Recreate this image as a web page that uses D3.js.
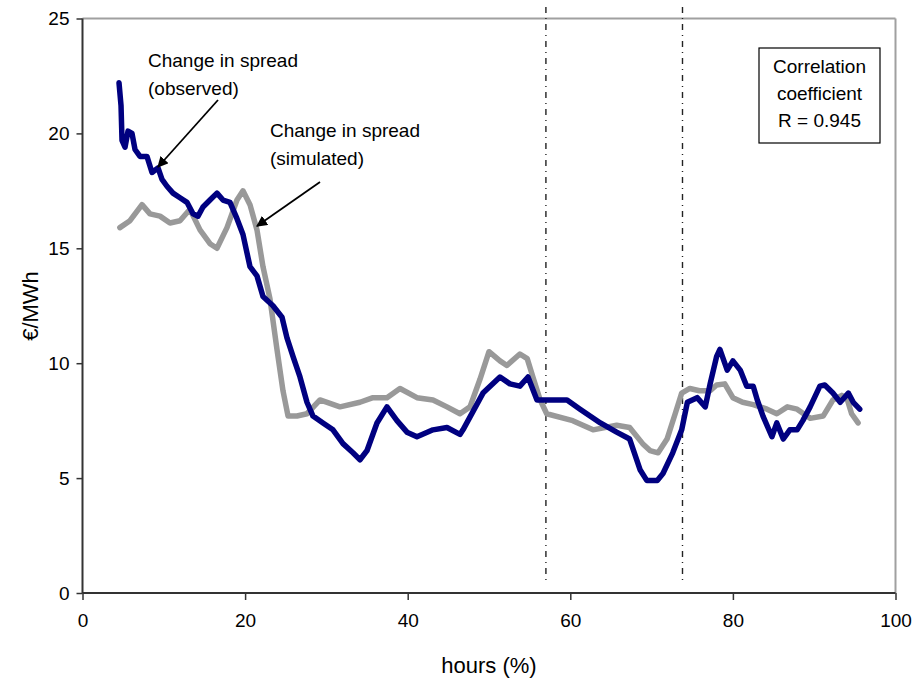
<!DOCTYPE html>
<html><head><meta charset="utf-8">
<script src="https://cdn.jsdelivr.net/npm/d3@7"></script>
<style>body{margin:0;background:#fff}svg{display:block;font-family:"Liberation Sans",Arial,sans-serif}</style>
</head><body><svg id="c" width="912" height="684"></svg>
<script>
const observedX=[4.49,4.74,4.86,5.23,5.60,6.09,6.46,7.07,7.93,8.55,9.29,9.78,10.39,11.13,11.99,12.85,13.59,14.21,14.82,15.68,16.54,17.28,18.14,18.99,19.74,20.60,21.46,22.20,23.43,24.54,25.15,25.89,26.75,27.61,28.35,29.58,30.81,32.04,33.27,34.13,35.00,36.22,37.45,38.68,39.91,41.14,43.11,44.83,46.43,46.8,49.26,51.35,52.58,53.8,54.8,55.9,57.1,59.6,61.2,63.7,65.7,67.3,68.6,69.4,70.7,71.4,72.6,73.7,74.4,75.6,76.6,77.2,78.0,78.4,79.3,80.0,80.9,81.7,82.5,83.0,83.7,84.8,85.4,86.2,87.0,87.9,88.6,89.5,90.7,91.3,92.3,93.2,94.2,94.8,95.6];
const observedY=[22.2,21.2,19.7,19.4,20.1,20.0,19.3,19.0,19.0,18.3,18.5,18.0,17.7,17.4,17.2,17.0,16.5,16.4,16.8,17.1,17.4,17.1,17.0,16.3,15.6,14.2,13.8,12.9,12.5,12.0,11.1,10.3,9.4,8.3,7.7,7.4,7.1,6.5,6.1,5.8,6.2,7.4,8.1,7.5,7.0,6.8,7.1,7.2,6.9,7.1,8.7,9.4,9.1,9.0,9.4,8.4,8.4,8.4,8.0,7.4,7.0,6.7,5.35,4.9,4.9,5.2,6.1,7.1,8.3,8.5,8.1,9.1,10.3,10.6,9.7,10.1,9.7,9.0,9.0,8.4,7.7,6.8,7.4,6.7,7.1,7.1,7.5,8.1,9.0,9.05,8.7,8.3,8.7,8.3,8.0];
const simulatedX=[4.6,5.84,7.32,8.3,9.53,10.76,11.99,13.22,14.45,15.68,16.54,17.77,19.0,19.74,20.6,21.46,22.2,23.06,23.92,24.66,25.28,26.38,27.61,29.21,31.67,34.13,35.73,37.45,39.05,41.14,43.11,44.83,46.43,47.66,48.89,50.0,51.35,52.2,53.8,54.7,55.4,56.3,57.1,60.3,62.8,65.7,67.3,68.9,69.8,70.8,71.9,72.9,73.7,74.7,75.9,77.2,78.0,79.0,80.0,81.2,82.5,84.2,85.4,86.7,87.9,89.5,91.1,92.3,93.4,94.0,94.6,95.4];
const simulatedY=[15.9,16.2,16.9,16.5,16.4,16.1,16.2,16.7,15.8,15.2,15.0,15.9,17.1,17.5,16.9,15.8,14.2,12.8,10.6,8.8,7.7,7.7,7.8,8.4,8.1,8.3,8.5,8.5,8.9,8.5,8.4,8.1,7.8,8.1,9.3,10.5,10.1,9.9,10.4,10.2,9.4,8.4,7.8,7.5,7.1,7.3,7.2,6.5,6.2,6.1,6.7,7.8,8.7,8.9,8.8,8.8,9.05,9.1,8.5,8.3,8.2,8.0,7.8,8.1,8.0,7.6,7.7,8.4,8.6,8.5,7.8,7.4];
const xTicks=[0,20,40,60,80,100];
const yTicks=[0,5,10,15,20,25];
const markerX=[57.0,73.8];
const markerYRange=[0.45,25.5];
const xLabel="hours (%)", yLabel="€/MWh";
const boxLines=["Correlation","coefficient","R = 0.945"];

const svg=d3.select("#c");
const x=d3.scaleLinear().domain([0,100]).range([82.5,895.5]);
const y=d3.scaleLinear().domain([0,25]).range([593,18.5]);

svg.append("line").attr("x1",x(0)).attr("x2",x(100)).attr("y1",y(25)).attr("y2",y(25)).attr("stroke","#a0a0a0").attr("stroke-width",2);
svg.append("line").attr("x1",x(100)).attr("x2",x(100)).attr("y1",y(25)).attr("y2",y(0)).attr("stroke","#a0a0a0").attr("stroke-width",2);

svg.selectAll(".mk").data(markerX).enter().append("line")
 .attr("x1",d=>x(d)).attr("x2",d=>x(d)).attr("y1",y(markerYRange[1])).attr("y2",y(markerYRange[0]))
 .attr("stroke","#222").attr("stroke-width",1.4).attr("stroke-dasharray","6,5,1,5");

const line=d3.line().x(d=>x(d[0])).y(d=>y(d[1])).curve(d3.curveLinear);
svg.append("path").datum(simulatedX.map((v,i)=>[v,simulatedY[i]])).attr("d",line)
 .attr("fill","none").attr("stroke","#999999").attr("stroke-width",5.5).attr("stroke-linejoin","round").attr("stroke-linecap","round");
svg.append("path").datum(observedX.map((v,i)=>[v,observedY[i]])).attr("d",line)
 .attr("fill","none").attr("stroke","#000080").attr("stroke-width",5.5).attr("stroke-linejoin","round").attr("stroke-linecap","round");

const xa=svg.append("g").attr("transform",`translate(0,${y(0)})`).call(d3.axisBottom(x).tickValues(xTicks).tickSize(7).tickPadding(14).tickFormat(d3.format("d")));
const ya=svg.append("g").attr("transform",`translate(${x(0)},0)`).call(d3.axisLeft(y).tickValues(yTicks).tickSize(6).tickPadding(7).tickFormat(d3.format("d")));
[xa,ya].forEach(g=>{
 g.select(".domain").attr("stroke","#333").attr("stroke-width",2);
 g.selectAll(".tick line").attr("stroke","#333").attr("stroke-width",1.5);
 g.selectAll("text").attr("font-size",19).attr("fill","#000").attr("font-family","Liberation Sans, Arial, sans-serif");
});
xa.select(".domain").attr("d",`M${x(0)},0H${x(100)}`);
ya.select(".domain").attr("d",`M0,${y(0)}V${y(25)}`);

svg.append("text").attr("x",489).attr("y",673).attr("text-anchor","middle").attr("font-size",22).text(xLabel);
svg.append("text").attr("transform","translate(38,306) rotate(-90)").attr("text-anchor","middle").attr("font-size",22).text(yLabel);

const ann=[{x:148,y:67,t:"Change in spread"},{x:148,y:95,t:"(observed)"},{x:270,y:137,t:"Change in spread"},{x:270,y:165,t:"(simulated)"}];
svg.selectAll(".an").data(ann).enter().append("text").attr("x",d=>d.x).attr("y",d=>d.y).attr("font-size",19).text(d=>d.t);

svg.append("defs").append("marker").attr("id","ah").attr("viewBox","0 0 10 10").attr("refX",9).attr("refY",5)
 .attr("markerWidth",11).attr("markerHeight",11).attr("markerUnits","userSpaceOnUse").attr("orient","auto")
 .append("path").attr("d","M0,0L10,5L0,10z").attr("fill","#000");
const arrows=[[218,100,158,167],[320,182,257,226]];
svg.selectAll(".ar").data(arrows).enter().append("line").attr("x1",d=>d[0]).attr("y1",d=>d[1]).attr("x2",d=>d[2]).attr("y2",d=>d[3])
 .attr("stroke","#000").attr("stroke-width",1.8).attr("marker-end","url(#ah)");

svg.append("rect").attr("x",759).attr("y",48).attr("width",121).attr("height",95).attr("fill","#fff").attr("stroke","#000").attr("stroke-width",1.2);
svg.selectAll(".bt").data(boxLines).enter().append("text").attr("x",819.5).attr("y",(d,i)=>73+i*27).attr("text-anchor","middle").attr("font-size",19).text(d=>d);
</script></body></html>
